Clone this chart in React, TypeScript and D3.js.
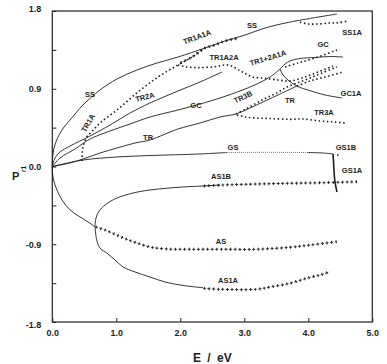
import React, { useRef, useEffect } from "react";
import { select, scaleLinear, line, curveCatmullRom, axisLeft, axisBottom } from "d3";

const WIDTH = 387;
const HEIGHT = 364;
const FRAME = { left: 52.3, right: 372.3, top: 11, bottom: 322 };
const INK = "#1e1e1e";
const FONT = "'Liberation Sans', Arial, sans-serif";

const E_TICKS = [0, 1, 2, 3, 4, 5];
const P_TICKS = [-1.8, -1.35, -0.9, -0.45, 0, 0.45, 0.9, 1.35, 1.8];
const P_LABELLED = [-1.8, -0.9, 0, 0.9, 1.8];

// [E, P]
const SS = [[0, 0], [0.005, 0.098], [0.027, 0.214], [0.089, 0.341], [0.183, 0.457], [0.277, 0.538], [0.48, 0.712], [0.745, 0.885], [1.011, 1.013], [1.323, 1.117], [1.636, 1.198], [1.964, 1.267], [2.386, 1.372], [2.698, 1.453], [3.011, 1.522], [3.323, 1.603], [3.714, 1.672], [4.448, 1.765]];
const SS1A = [[3.87, 1.672], [3.995, 1.65], [4.152, 1.65], [4.339, 1.661], [4.464, 1.664], [4.62, 1.684]];
const TR1A = [[0.464, 0.064], [0.48, 0.226], [0.538, 0.341], [0.616, 0.403], [0.745, 0.503], [1.011, 0.654], [1.339, 0.862], [1.652, 1.036], [1.964, 1.175], [2.183, 1.267], [2.386, 1.372]];
const TR1A1A = [[1.995, 1.198], [2.183, 1.267], [2.386, 1.372], [2.542, 1.406], [2.698, 1.453], [2.886, 1.481]];
const TR1A2A = [[1.964, 1.175], [2.073, 1.155], [2.277, 1.144], [2.542, 1.155], [2.745, 1.175], [2.964, 1.097], [3.12, 1.039], [3.323, 1.021], [3.527, 1.001], [3.714, 0.99], [3.902, 1.024], [4.152, 1.094], [4.386, 1.163]];
const TR2A = [[0, 0], [0.042, 0.098], [0.12, 0.168], [0.277, 0.237], [0.589, 0.353], [0.902, 0.48], [1.214, 0.619], [1.527, 0.735], [1.964, 0.874], [2.308, 0.978], [2.652, 1.094]];
const GC = [[0, 0], [0.12, 0.098], [0.355, 0.203], [0.589, 0.318], [0.902, 0.411], [1.214, 0.492], [1.527, 0.573], [1.964, 0.654], [2.308, 0.723], [2.667, 0.804], [2.933, 0.874], [3.198, 0.955], [3.402, 1.036], [3.558, 1.128]];
const GC_UPPER = [[3.558, 1.128], [3.636, 1.186], [3.714, 1.221], [3.87, 1.25], [4.105, 1.262], [4.339, 1.273], [4.542, 1.267]];
const GC_DOTS = [[3.636, 1.152], [3.839, 1.198], [4.105, 1.256], [4.448, 1.348]];
const GC1A = [[3.558, 1.128], [3.605, 1.059], [3.683, 1.001], [3.745, 0.966], [3.839, 0.924], [3.995, 0.885], [4.261, 0.828], [4.527, 0.793]];
const TR = [[0, 0], [0.277, 0.041], [0.48, 0.087], [0.745, 0.156], [1.011, 0.214], [1.292, 0.272], [1.527, 0.307], [1.964, 0.434], [2.308, 0.503], [2.62, 0.573], [2.87, 0.608], [3.089, 0.677], [3.323, 0.758], [3.558, 0.839], [3.823, 0.932]];
const TR_DOTS = [[3.823, 0.932], [4.027, 0.99], [4.261, 1.036], [4.542, 1.094]];
const TR3B = [[2.87, 0.608], [3.027, 0.666], [3.194, 0.735], [3.339, 0.793], [3.506, 0.851], [3.667, 0.92], [3.823, 0.966], [4.027, 1.024], [4.214, 1.082], [4.448, 1.152]];
const TR3A = [[2.886, 0.596], [3.011, 0.573], [3.167, 0.561], [3.402, 0.556], [3.714, 0.546], [3.917, 0.55], [4.183, 0.527], [4.401, 0.515], [4.605, 0.5]];
const GS = [[0, 0], [0.48, 0.075], [1.011, 0.11], [1.527, 0.127], [2.308, 0.145], [2.73, 0.162]];
const GS_DOTS = [[2.73, 0.162], [3.35, 0.164], [3.98, 0.162]];
const GS_END = [[3.98, 0.162], [4.23, 0.156], [4.386, 0.145]];
const GS1A = [[4.386, 0.145], [4.394, 0.052], [4.401, -0.041], [4.417, -0.179], [4.448, -0.295]];
const GS1B = [[4.448, 0.133], [4.511, 0.133]];
const AS_BASE = [[0, 0], [0.003, -0.064], [0.019, -0.156], [0.073, -0.272], [0.152, -0.388], [0.277, -0.503], [0.433, -0.584], [0.558, -0.642], [0.667, -0.697]];
const AS1B = [[0.667, -0.697], [0.683, -0.596], [0.745, -0.503], [0.87, -0.422], [1.011, -0.365], [1.261, -0.307], [1.527, -0.272], [2.042, -0.237], [2.355, -0.226], [2.62, -0.214]];
const AS1B_CROSS = [[2.355, -0.226], [2.667, -0.214], [3.198, -0.203], [3.714, -0.194], [4.23, -0.188], [4.761, -0.176]];
const AS = [[0.667, -0.697], [0.823, -0.735], [1.006, -0.793], [1.152, -0.839], [1.319, -0.885], [1.527, -0.932], [1.788, -0.955], [2.152, -0.958], [2.62, -0.958], [3.194, -0.958], [3.714, -0.935], [4.027, -0.909], [4.444, -0.87]];
const AS1A = [[0.667, -0.697], [0.694, -0.851], [0.745, -0.943], [0.85, -1.001], [0.98, -1.082], [1.105, -1.163], [1.292, -1.221], [1.527, -1.279], [1.761, -1.337], [2.042, -1.377], [2.355, -1.403]];
const AS1A_CROSS = [[2.355, -1.41], [2.62, -1.421], [3.194, -1.421], [3.402, -1.395], [3.714, -1.352], [3.975, -1.294], [4.183, -1.256], [4.339, -1.218]];

const SERIES = [
  { data: SS, kind: "solid" },
  { data: SS1A, kind: "dot" },
  { data: TR1A, kind: "dot" },
  { data: TR1A1A, kind: "cross" },
  { data: TR1A2A, kind: "dot" },
  { data: TR2A, kind: "solid" },
  { data: GC, kind: "solid" },
  { data: GC_UPPER, kind: "solid" },
  { data: GC_DOTS, kind: "dot" },
  { data: GC1A, kind: "solid" },
  { data: TR, kind: "solid" },
  { data: TR_DOTS, kind: "dot" },
  { data: TR3B, kind: "dot" },
  { data: TR3A, kind: "dot" },
  { data: GS, kind: "solid" },
  { data: GS_DOTS, kind: "fine" },
  { data: GS_END, kind: "solid" },
  { data: GS1A, kind: "bold" },
  { data: GS1B, kind: "dot" },
  { data: AS_BASE, kind: "solid" },
  { data: AS1B, kind: "solid" },
  { data: AS1B_CROSS, kind: "cross" },
  { data: AS, kind: "cross" },
  { data: AS1A, kind: "solid" },
  { data: AS1A_CROSS, kind: "cross" },
];

const LABELS = [
  { text: "SS", at: [0.589, 0.839], rot: 0 },
  { text: "TR1A", at: [0.558, 0.503], rot: -60 },
  { text: "TR2A", at: [1.448, 0.804], rot: -15 },
  { text: "GC", at: [2.245, 0.712], rot: 0 },
  { text: "TR", at: [1.497, 0.341], rot: 0 },
  { text: "GS", at: [2.823, 0.226], rot: 0 },
  { text: "TR1A1A", at: [2.261, 1.499], rot: -20 },
  { text: "SS", at: [3.12, 1.638], rot: 0 },
  { text: "TR1A2A", at: [2.683, 1.267], rot: 0 },
  { text: "TR1+2A1A", at: [3.37, 1.256], rot: -17 },
  { text: "GC", at: [4.23, 1.418], rot: 0 },
  { text: "SS1A", at: [4.683, 1.557], rot: 0 },
  { text: "GC1A", at: [4.667, 0.851], rot: 0 },
  { text: "TR3B", at: [2.98, 0.804], rot: -25 },
  { text: "TR", at: [3.714, 0.77], rot: 0 },
  { text: "TR3A", at: [4.245, 0.631], rot: 0 },
  { text: "GS1B", at: [4.589, 0.226], rot: 0 },
  { text: "GS1A", at: [4.683, -0.04], rot: 0 },
  { text: "AS1B", at: [2.636, -0.11], rot: 0 },
  { text: "AS", at: [2.636, -0.862], rot: 0 },
  { text: "AS1A", at: [2.745, -1.314], rot: 0 },
];

const addPath = (g, d, width, dash, offset) => {
  const p = g
    .append("path")
    .attr("d", d)
    .attr("fill", "none")
    .attr("stroke", INK)
    .attr("stroke-width", width);
  if (dash) p.attr("stroke-dasharray", dash);
  if (offset) p.attr("stroke-dashoffset", offset);
};

export default function App() {
  const node = useRef(null);

  useEffect(() => {
    node.current.innerHTML = "";
    const x = scaleLinear().domain([0, 5]).range([FRAME.left, FRAME.right]);
    const y = scaleLinear().domain([-1.8, 1.8]).range([FRAME.bottom, FRAME.top]);

    const svg = select(node.current)
      .append("svg")
      .attr("width", WIDTH)
      .attr("height", HEIGHT)
      .style("display", "block")
      .style("background", "#fff");

    // axes
    const yAxis = axisLeft(y)
      .tickValues(P_TICKS)
      .tickSize(-4)
      .tickPadding(11)
      .tickFormat((d) => (P_LABELLED.includes(d) ? d.toFixed(1) : ""));
    svg
      .append("g")
      .attr("transform", `translate(${FRAME.left},0)`)
      .call(yAxis)
      .call((g) => {
        g.select(".domain").remove();
        g.selectAll(".tick line").attr("stroke", INK);
        g.selectAll("text")
          .attr("font-family", FONT)
          .attr("font-weight", "bold")
          .attr("font-size", 9)
          .attr("fill", INK)
          .attr("dy", (d) => (d === 1.8 ? "0" : d === -1.8 ? "0.62em" : "0.32em"));
      });

    const xAxis = axisBottom(x)
      .tickValues(E_TICKS)
      .tickSize(-4)
      .tickPadding(8)
      .tickFormat((d) => d.toFixed(1));
    svg
      .append("g")
      .attr("transform", `translate(0,${FRAME.bottom})`)
      .call(xAxis)
      .call((g) => {
        g.select(".domain").remove();
        g.selectAll(".tick line").attr("stroke", INK);
        g.selectAll("text")
          .attr("font-family", FONT)
          .attr("font-weight", "bold")
          .attr("font-size", 9)
          .attr("fill", INK);
      });

    svg
      .append("rect")
      .attr("x", FRAME.left)
      .attr("y", FRAME.top)
      .attr("width", FRAME.right - FRAME.left)
      .attr("height", FRAME.bottom - FRAME.top)
      .attr("fill", "none")
      .attr("stroke", "#333")
      .attr("stroke-width", 1.3);

    // curves
    const path = line()
      .x((d) => x(d[0]))
      .y((d) => y(d[1]))
      .curve(curveCatmullRom.alpha(0.5));
    const curves = svg.append("g");
    SERIES.forEach(({ data, kind }) => {
      const d = path(data);
      if (kind === "solid") addPath(curves, d, 0.9);
      else if (kind === "bold") addPath(curves, d, 1.6);
      else if (kind === "fine") addPath(curves, d, 0.8, "0.8 1.2");
      else if (kind === "dot") addPath(curves, d, 1.6, "1.5 2.6");
      else {
        addPath(curves, d, 0.9, "3 1.6");
        addPath(curves, d, 3, "0.9 3.7", -1.05);
      }
    });

    // curve labels
    svg
      .append("g")
      .selectAll("text")
      .data(LABELS)
      .enter()
      .append("text")
      .attr("transform", (l) => `translate(${x(l.at[0])},${y(l.at[1])}) rotate(${l.rot})`)
      .attr("text-anchor", "middle")
      .attr("dy", "0.35em")
      .attr("font-family", FONT)
      .attr("font-weight", "bold")
      .attr("font-size", 7.5)
      .attr("fill", INK)
      .text((l) => l.text);

    // axis titles
    svg
      .append("text")
      .attr("x", 12)
      .attr("y", 180)
      .attr("font-family", FONT)
      .attr("font-weight", "bold")
      .attr("font-size", 11)
      .attr("fill", INK)
      .text("P");
    svg
      .append("text")
      .attr("transform", "translate(26,169) rotate(-90)")
      .attr("text-anchor", "middle")
      .attr("font-family", FONT)
      .attr("font-weight", "bold")
      .attr("font-size", 6.5)
      .attr("fill", INK)
      .text("r1");
    svg
      .append("text")
      .attr("x", (FRAME.left + FRAME.right) / 2)
      .attr("y", 362)
      .attr("text-anchor", "middle")
      .attr("font-family", FONT)
      .attr("font-weight", "bold")
      .attr("font-size", 12)
      .attr("word-spacing", 3)
      .attr("fill", INK)
      .text("E / eV");
  }, []);

  return <div ref={node} style={{ position: "absolute", left: 0, top: 0 }} />;
}
